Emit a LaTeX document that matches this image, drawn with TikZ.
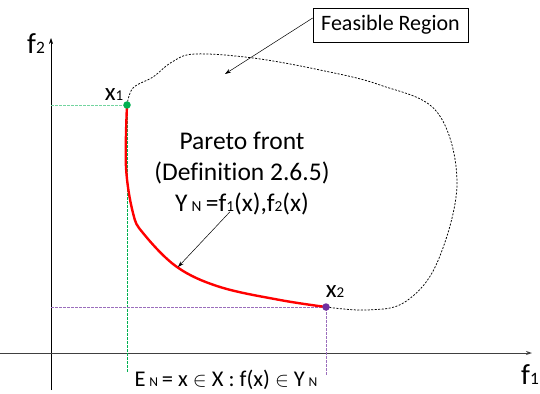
\documentclass[tikz,border=0pt]{standalone}
\usepackage{fontspec}
\setmainfont{Carlito}[Ligatures=NoCommon]
\usepackage{amssymb}
\usepackage{graphicx}
\usetikzlibrary{arrows.meta,positioning,calc}
\definecolor{frontRed}{RGB}{255,0,0}
\definecolor{pointGreen}{RGB}{0,176,80}
\definecolor{pointPurple}{RGB}{112,48,160}
\newcommand{\lowsub}[1]{\scalebox{0.6}{#1}}
\begin{document}
\begin{tikzpicture}[x=1pt, y=-1pt, every node/.style={inner sep=0pt},
    guide/.style={dash pattern=on 2.5pt off 1.5pt, line width=0.8pt},
    boundary/.style={dash pattern=on 2pt off 1.5pt, line width=0.75pt, black},
    dot/.style={circle, fill=#1, minimum size=7.5pt}]
  \useasboundingbox (0,0) rectangle (540,393);
  % Axes
  \draw[-{Stealth[length=6pt,width=4pt]}, line width=0.6pt] (51,390) -- (51,38);
  \draw[-{Stealth[length=6pt,width=4pt]}, line width=1pt, black!75] (0,353) -- (532,353);
  \node[font=\fontsize{29}{30}\selectfont] (f2lab) at (36,44) {f\lowsub{2}};
  \node[font=\fontsize{29}{30}\selectfont] (f1lab) at (530,375) {f\lowsub{1}};
  % Extreme points
  \coordinate (p1) at (127,105);
  \coordinate (p2) at (326,307);
  \node[font=\fontsize{25}{26}\selectfont] (x1lab) at (114,95) {x\lowsub{1}};
  \node[font=\fontsize{25}{26}\selectfont] (x2lab) at (335,292) {x\lowsub{2}};
  % Guide lines
  \draw[guide, pointGreen!55] (51,105) -- (p1);
  \draw[guide, pointGreen, line width=0.6pt] (p1) -- (127,372);
  \draw[guide, pointPurple!70, line width=0.6pt] (51,307) -- (p2) -- (326,376);
  % Feasible region boundary
  \draw[boundary] plot[smooth, tension=0.6] coordinates {(127,105) (133,88) (153,77) (172,62)
    (195,54) (253,58) (320,70) (380,85) (437,112) (457,183) (437,263) (405,302) (367,310) (326,307)};
  % Pareto front
  \draw[frontRed, line width=2.4pt, line cap=round] plot[smooth, tension=0.6] coordinates {(127,105)
    (126,167) (133,213) (143,233) (177,267) (220,287) (280,300) (326,307)};
  \node[dot=pointGreen] (x1) at (p1) {};
  \node[dot=pointPurple] (x2) at (p2) {};
  % Labels
  \node[draw, line width=0.6pt, inner xsep=4pt, inner ysep=4pt, minimum width=155pt, minimum height=34pt,
    font=\fontsize{22}{24}\selectfont] (feas) at (390.5,25) {Feasible Region};
  \coordinate (feastip) at (225,74);
  \draw[-{Stealth[length=6pt,width=4pt]}, line width=0.5pt] ([yshift=7pt]feas.west) -- (feastip);
  \node[align=center, font=\fontsize{25.5}{31}\selectfont] (pareto) at (242,174)
    {Pareto front\\(Definition 2.6.5)\\Y\,\lowsub{N}\,=f\lowsub{1}(x),f\lowsub{2}(x)};
  \coordinate (paretotip) at (178,267);
  \draw[-{Stealth[length=6pt,width=4pt]}, line width=0.5pt] ([xshift=-12pt,yshift=4pt]pareto.south) -- (paretotip);
  \node[font=\fontsize{22.5}{24}\selectfont] (effset) at (226,380)
    {E\,\lowsub{N}\,= x $\in$ X : f(x) $\in$ Y\,\lowsub{N}};
\end{tikzpicture}
\end{document}
